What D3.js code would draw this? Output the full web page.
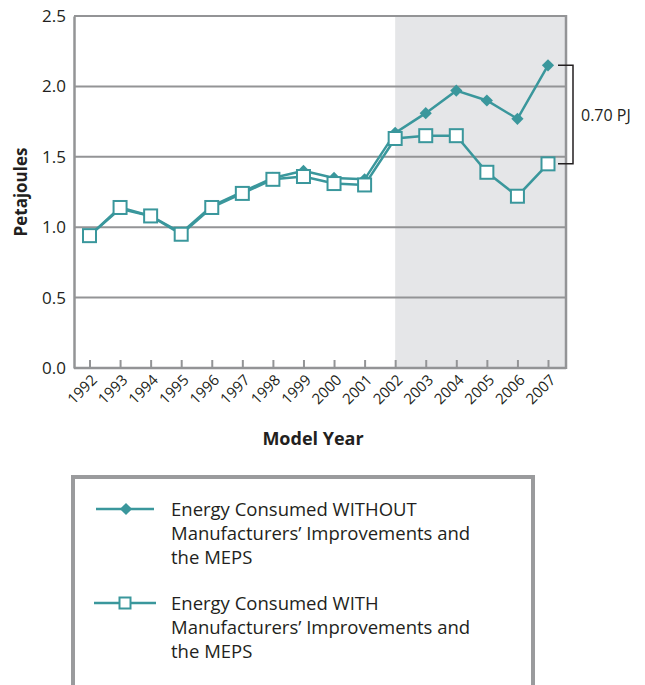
<!DOCTYPE html>
<html>
<head>
<meta charset="utf-8">
<script src="https://cdn.jsdelivr.net/npm/d3@7"></script>
<style>
  body { margin: 0; background: #fff; }
  svg text { font-family: "Open Sans", "Noto Sans", sans-serif; fill: #231f20; }
</style>
</head>
<body>
<div id="chart"></div>
<script>
const years = [1992, 1993, 1994, 1995, 1996, 1997, 1998, 1999, 2000, 2001, 2002, 2003, 2004, 2005, 2006, 2007];
const withoutMeps = [0.94, 1.13, 1.08, 0.96, 1.15, 1.25, 1.35, 1.40, 1.35, 1.34, 1.67, 1.81, 1.97, 1.90, 1.77, 2.15];
const withMeps = [0.94, 1.14, 1.08, 0.95, 1.14, 1.24, 1.34, 1.36, 1.31, 1.30, 1.63, 1.65, 1.65, 1.39, 1.22, 1.45];
const yTicks = [0, 0.5, 1.0, 1.5, 2.0, 2.5];
const shadeFrom = 2002;
const gapLabel = "0.70 PJ";
const legendLabels = [
  ["Energy Consumed WITHOUT", "Manufacturers\u2019 Improvements and", "the MEPS"],
  ["Energy Consumed WITH", "Manufacturers\u2019 Improvements and", "the MEPS"]
];

const W = 645, H = 685;
const teal = "#3a979c";
const grid = "#939496";
const plot = {left: 74, right: 566, top: 16, bottom: 368};

const svg = d3.select("#chart").append("svg")
  .attr("width", W)
  .attr("height", H);

const x = d3.scaleLinear().domain([1992, 2007]).range([89.5, 548]);
const y = d3.scaleLinear().domain([0, 2.5]).range([plot.bottom, plot.top]);

// shaded projection area
svg.append("rect")
  .attr("x", x(shadeFrom))
  .attr("y", plot.top)
  .attr("width", plot.right - x(shadeFrom))
  .attr("height", plot.bottom - plot.top)
  .style("fill", "#e5e6e8");

// gridlines
svg.selectAll(".grid")
  .data(yTicks.filter(d => d > 0))
  .enter()
  .append("line")
  .attr("x1", plot.left)
  .attr("x2", plot.right)
  .attr("y1", d => y(d))
  .attr("y2", d => y(d))
  .style("stroke", grid)
  .style("stroke-width", 2);

// right border
svg.append("line")
  .attr("x1", plot.right).attr("x2", plot.right)
  .attr("y1", plot.top - 1).attr("y2", plot.bottom + 1)
  .style("stroke", grid)
  .style("stroke-width", 2.5);

// y axis
const yAxis = d3.axisLeft(y).tickValues(yTicks).tickFormat(d3.format(".1f")).tickSize(0).tickPadding(8);
const yg = svg.append("g")
  .attr("transform", "translate(" + plot.left + ",0)")
  .call(yAxis);
yg.select(".domain").style("stroke", grid).style("stroke-width", 2.5);
yg.selectAll("text").style("font-size", "17px").attr("fill", "#231f20");

// x axis, ticks pointing inward
const xAxis = d3.axisBottom(x).tickValues(years).tickFormat(d3.format("d")).tickSizeInner(-8).tickSizeOuter(0);
const xg = svg.append("g")
  .attr("transform", "translate(0," + plot.bottom + ")")
  .call(xAxis);
xg.select(".domain").attr("d", "M" + plot.left + ",0H" + plot.right)
  .style("stroke", grid).style("stroke-width", 2.5);
xg.selectAll(".tick line").style("stroke", grid).style("stroke-width", 2);
xg.selectAll("text")
  .style("font-size", "15px")
  .attr("fill", "#231f20")
  .attr("text-anchor", "end")
  .attr("dy", null)
  .attr("y", 0)
  .attr("transform", "translate(8,13) rotate(-45)");

// axis titles
svg.append("text")
  .attr("transform", "translate(27," + ((plot.top + plot.bottom) / 2) + ") rotate(-90)")
  .attr("text-anchor", "middle")
  .style("font-size", "17px")
  .style("font-weight", "bold")
  .text("Petajoules");

svg.append("text")
  .attr("x", 313)
  .attr("y", 445)
  .attr("text-anchor", "middle")
  .style("font-size", "18px")
  .style("font-weight", "bold")
  .text("Model Year");

// lines
const line = d3.line().x((d, i) => x(years[i])).y(d => y(d));

svg.append("path")
  .datum(withoutMeps)
  .attr("d", line)
  .style("fill", "none")
  .style("stroke", teal)
  .style("stroke-width", 2.5);

svg.append("path")
  .datum(withMeps)
  .attr("d", line)
  .style("fill", "none")
  .style("stroke", teal)
  .style("stroke-width", 2.5);

const diamond = d3.symbol().type(d3.symbolDiamond2).size(95);

svg.selectAll(".dia")
  .data(withoutMeps)
  .enter()
  .append("path")
  .attr("d", diamond)
  .attr("transform", (d, i) => "translate(" + x(years[i]) + "," + y(d) + ")")
  .style("fill", teal);

svg.selectAll(".sq")
  .data(withMeps)
  .enter()
  .append("rect")
  .attr("x", (d, i) => x(years[i]) - 6.5)
  .attr("y", d => y(d) - 6.5)
  .attr("width", 13)
  .attr("height", 13)
  .style("fill", "#fff")
  .style("stroke", teal)
  .style("stroke-width", 2);

// gap bracket
const last = years.length - 1;
const bx = 573;
svg.append("path")
  .attr("d", "M558," + y(withoutMeps[last]) + "H" + bx + "V" + y(withMeps[last]) + "H558")
  .style("fill", "none")
  .style("stroke", "#231f20")
  .style("stroke-width", 1.5);

svg.append("text")
  .attr("x", 581)
  .attr("y", (y(withoutMeps[last]) + y(withMeps[last])) / 2 + 6)
  .style("font-size", "16px")
  .text(gapLabel);

// legend
svg.append("rect")
  .attr("x", 73)
  .attr("y", 477)
  .attr("width", 460)
  .attr("height", 240)
  .style("fill", "#fff")
  .style("stroke", "#9a9b9d")
  .style("stroke-width", 4);

const legendY = [509, 603];
legendLabels.forEach((lines, k) => {
  const ly = legendY[k];
  svg.append("line")
    .attr("x1", k === 0 ? 96 : 94).attr("x2", k === 0 ? 154 : 156)
    .attr("y1", ly).attr("y2", ly)
    .style("stroke", teal)
    .style("stroke-width", 2.5);
  if (k === 0) {
    svg.append("path")
      .attr("d", diamond)
      .attr("transform", "translate(126," + ly + ")")
      .style("fill", teal);
  } else {
    svg.append("rect")
      .attr("x", 119.5).attr("y", ly - 5.5)
      .attr("width", 11).attr("height", 11)
      .style("fill", "#fff")
      .style("stroke", teal)
      .style("stroke-width", 2);
  }
  lines.forEach((t, j) => {
    svg.append("text")
      .attr("x", 171)
      .attr("y", ly + 7 + j * 24)
      .style("font-size", "18.5px")
      .text(t);
  });
});
</script>
</body>
</html>
